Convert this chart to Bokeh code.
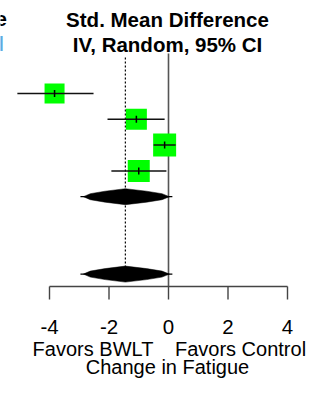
from bokeh.plotting import figure
from bokeh.models import Range1d
from bokeh.core.properties import value
from bokeh.embed import file_html
from bokeh.resources import INLINE

# ---- data ----
study_est = [-3.83, -1.08, -0.13, -1.00]
study_lo = [-5.08, -2.05, -0.50, -1.92]
study_hi = [-2.52, -0.13, 0.24, -0.07]
study_weight = [20, 21, 23, 22]          # box size (relative weight)
pooled_est = [-1.45, -1.45]
pooled_lo = [-2.96, -2.96]
pooled_hi = [0.13, 0.13]
pooled_rows = [4, 7]
tick_vals = [-4, -2, 0, 2, 4]
tick_labels = ["-4", "-2", "0", "2", "4"]
title_lines = ["Std. Mean Difference", "IV, Random, 95% CI"]
favors_left = "Favors BWLT"
favors_right = "Favors Control"
axis_title = "Change in Fatigue"

W, H = 306, 378
X0 = 168.0       # pixel of zero
PPU = 29.75      # pixels per unit


def px2x(px):
    return (px - X0) / PPU


def row_y(k):
    return 93 + 25.8 * k


FONT = value("Liberation Sans")

p = figure(width=W, height=H,
           x_range=Range1d(px2x(0), px2x(W)), y_range=Range1d(H, 0),
           x_axis_location=None, y_axis_location=None,
           min_border=0, toolbar_location=None, output_backend="svg",
           outline_line_color=None)
p.grid.visible = False
p.background_fill_color = "white"
p.border_fill_color = "white"

# reference lines
p.segment(x0=[0], y0=[53], x1=[0], y1=[286], line_color="#555555", line_width=1.6)
p.segment(x0=[pooled_est[0]], y0=[57], x1=[pooled_est[0]], y1=[row_y(pooled_rows[1])],
          line_color="black", line_width=1.2, line_dash="2 2")

# studies
ys = [row_y(i) for i in range(len(study_est))]
p.scatter(x=study_est, y=ys, size=study_weight, marker="square",
          fill_color="#00FF00", line_color=None)
p.segment(x0=study_lo, y0=ys, x1=study_hi, y1=ys, line_color="#111111", line_width=1.5)
p.segment(x0=study_est, y0=[y - 3.5 for y in ys], x1=study_est, y1=[y + 3.5 for y in ys],
          line_color="black", line_width=1.5)

# pooled diamonds
for est, lo, hi, r in zip(pooled_est, pooled_lo, pooled_hi, pooled_rows):
    y = row_y(r)
    p.segment(x0=[lo], y0=[y], x1=[hi], y1=[y], line_color="black", line_width=1.3)
    dl, dr = est - lo, hi - est
    xs = [lo + 0.1, lo + dl * 0.22, lo + dl * 0.55, est, hi - dr * 0.55, hi - dr * 0.22, hi - 0.1,
          hi - dr * 0.22, hi - dr * 0.55, est, lo + dl * 0.55, lo + dl * 0.22]
    yy = [y, y - 3, y - 5.5, y - 8, y - 5.5, y - 3, y,
          y + 3, y + 5.5, y + 8, y + 5.5, y + 3]
    p.patch(x=xs, y=yy, fill_color="black", line_color="black", line_width=0.5)

# x axis (drawn)
AX_Y = 286
p.segment(x0=[tick_vals[0]], y0=[AX_Y], x1=[tick_vals[-1]], y1=[AX_Y],
          line_color="#444444", line_width=1.4)
p.segment(x0=tick_vals, y0=[AX_Y] * len(tick_vals), x1=tick_vals, y1=[299] * len(tick_vals),
          line_color="#444444", line_width=1.4)
p.text(x=tick_vals, y=[326.5] * len(tick_vals), text=tick_labels,
       text_font=FONT, text_font_size="20.5px", text_align="center",
       text_baseline="middle", text_color="black")
p.text(x=[px2x(92.5), px2x(240)], y=[348, 348], text=[favors_left, favors_right],
       text_font=FONT, text_font_size="20px", text_align="center",
       text_baseline="middle", text_color="black")
p.text(x=[px2x(167)], y=[366.5], text=[axis_title],
       text_font=FONT, text_font_size="20px", text_align="center",
       text_baseline="middle", text_color="black")

# header
p.text(x=[px2x(167), px2x(167)], y=[18.5, 43.5], text=title_lines,
       text_font=FONT, text_font_size="20.5px", text_font_style="bold",
       text_align="center", text_baseline="middle", text_color="black")

# fragments of the neighbouring column header, cut by the left edge
p.text(x=[px2x(6.5)], y=[18], text=["e"],
       text_font=FONT, text_font_size="20.5px", text_font_style="bold",
       text_align="right", text_baseline="middle", text_color="black")
p.text(x=[px2x(3.5)], y=[43], text=["l"],
       text_font=FONT, text_font_size="20.5px", text_font_style="bold",
       text_align="right", text_baseline="middle", text_color="#5fa8e0")

open("out.html", "w").write(file_html(p, INLINE))
